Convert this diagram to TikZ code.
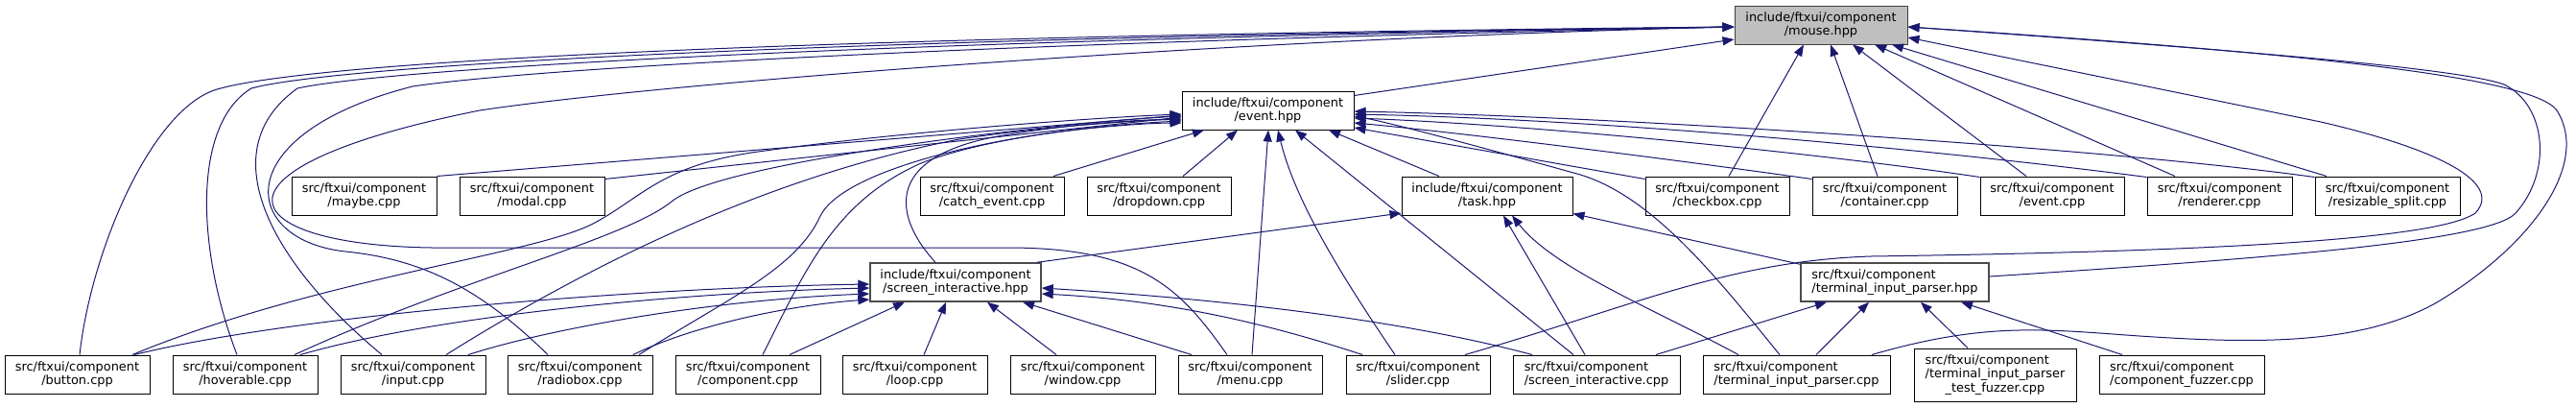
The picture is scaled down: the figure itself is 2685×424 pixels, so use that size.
\documentclass[tikz,border=0pt]{standalone}
\usepackage{fontspec}
\setmainfont{DejaVu Sans}
\usepackage{tikz}
\usetikzlibrary{arrows.meta}
\definecolor{navyedge}{HTML}{191970}
\definecolor{mousefill}{HTML}{BFBFBF}
\newcommand{\filefont}{\fontsize{12.9}{14.5}\selectfont}

\begin{document}
\begin{tikzpicture}[
    x=1pt, y=-1pt,
    file/.style = {rectangle, draw=black, fill=white, line width=1pt, minimum height=40pt, inner sep=0pt, align=center, font=\filefont},
    hdr/.style = {file, draw=black!70, line width=1.4pt},
    dep/.style = {draw=navyedge, line width=1pt, -{Triangle[length=12pt,width=9pt]}}
]
\path[use as bounding box, fill=white] (0,0) rectangle (2685,424);

% Headers
\node (mouse) [file, fill=mousefill, draw=black!75, minimum width=180pt] at (1898,26) {include/ftxui/component\\/mouse.hpp};
\node (eventh) [file, minimum width=179pt] at (1321.5,115) {include/ftxui/component\\/event.hpp};
\node (task) [file, minimum width=178pt] at (1550,204) {include/ftxui/component\\/task.hpp};
\node (sih) [hdr, minimum width=178pt] at (996,294) {include/ftxui/component\\/screen\_interactive.hpp};
\node (tiph) [hdr, align=left, minimum width=196pt] at (1975,294) {src/ftxui/component\\/terminal\_input\_parser.hpp};

% Middle row
\node (maybe) [file, minimum width=151pt] at (379.5,204) {src/ftxui/component\\/maybe.cpp};
\node (modal) [file, minimum width=151pt] at (554.5,204) {src/ftxui/component\\/modal.cpp};
\node (catchev) [file, minimum width=150pt] at (1034,204) {src/ftxui/component\\/catch\_event.cpp};
\node (dropdown) [file, minimum width=150pt] at (1208,204) {src/ftxui/component\\/dropdown.cpp};
\node (checkbox) [file, minimum width=150pt] at (1790,204) {src/ftxui/component\\/checkbox.cpp};
\node (container) [file, minimum width=151pt] at (1964.5,204) {src/ftxui/component\\/container.cpp};
\node (eventc) [file, minimum width=150pt] at (2139,204) {src/ftxui/component\\/event.cpp};
\node (renderer) [file, minimum width=151pt] at (2313.5,204) {src/ftxui/component\\/renderer.cpp};
\node (resizable) [file, minimum width=151pt] at (2488.5,204) {src/ftxui/component\\/resizable\_split.cpp};

% Bottom row
\node (button) [file, minimum width=151pt] at (80.5,390) {src/ftxui/component\\/button.cpp};
\node (hoverable) [file, minimum width=151pt] at (255.5,390) {src/ftxui/component\\/hoverable.cpp};
\node (input) [file, minimum width=151pt] at (430.5,390) {src/ftxui/component\\/input.cpp};
\node (radiobox) [file, minimum width=151pt] at (604.5,390) {src/ftxui/component\\/radiobox.cpp};
\node (component) [file, minimum width=151pt] at (779.5,390) {src/ftxui/component\\/component.cpp};
\node (loop) [file, minimum width=151pt] at (953.5,390) {src/ftxui/component\\/loop.cpp};
\node (window) [file, minimum width=151pt] at (1128.5,390) {src/ftxui/component\\/window.cpp};
\node (menu) [file, minimum width=150pt] at (1303,390) {src/ftxui/component\\/menu.cpp};
\node (slider) [file, minimum width=150pt] at (1478,390) {src/ftxui/component\\/slider.cpp};
\node (sic) [file, align=left, minimum width=174pt] at (1664,390) {src/ftxui/component\\/screen\_interactive.cpp};
\node (tipc) [file, align=left, minimum width=195pt] at (1872.5,390) {src/ftxui/component\\/terminal\_input\_parser.cpp};
\node (fuzztest) [file, align=left, minimum width=169pt, minimum height=55pt] at (2079.5,390.5) {src/ftxui/component\\/terminal\_input\_parser\\\hspace*{21pt}\_test\_fuzzer.cpp};
\node (compfuzz) [file, align=left, minimum width=172pt] at (2274,390) {src/ftxui/component\\/component\_fuzzer.cpp};

% Edges into mouse.hpp
\draw [dep] ([yshift=-5pt]eventh.north east) -- ([yshift=-15pt]mouse.west);
\draw [dep] ([xshift=2.5pt]button.north) .. controls (95,260) and (160,108) .. (230,92) .. controls (330,65) and (800,38) .. ([yshift=-2pt]mouse.west);
\draw [dep] ([xshift=-8.5pt]hoverable.north) .. controls (205,260) and (200,130) .. (262,92) .. controls (350,68) and (850,40) .. ([yshift=-2pt]mouse.west);
\draw [dep] ([xshift=-32.5pt]input.north) .. controls (290,280) and (215,160) .. (310,92) .. controls (400,72) and (900,42) .. ([yshift=-2pt]mouse.west);
\draw [dep] ([xshift=-33.5pt]radiobox.north) .. controls (500,300) and (440,270) .. (360,262) .. controls (250,250) and (235,140) .. (430,90) .. controls (550,72) and (1000,45) .. ([yshift=-2pt]mouse.west);
\draw [dep] ([xshift=-24pt]menu.north) .. controls (1230,300) and (1190,258) .. (1050,258) -- (450,258) .. controls (240,255) and (200,175) .. (500,115) .. controls (700,85) and (1300,40) .. ([yshift=-2pt]mouse.west);
\draw [dep] ([xshift=12pt]checkbox.north) -- ([xshift=-18pt]mouse.south);
\draw [dep] ([xshift=-7.5pt]container.north) -- ([xshift=10pt]mouse.south);
\draw [dep] ([xshift=-27pt]eventc.north) -- ([xshift=33pt]mouse.south);
\draw [dep] ([xshift=-46.5pt]renderer.north) -- ([xshift=56pt]mouse.south);
\draw [dep] ([xshift=-63.5pt]resizable.north) -- ([xshift=74pt]mouse.south);
\draw [dep] ([xshift=49pt]slider.north) .. controls (1700,320) and (1800,272) .. (1950,267) .. controls (2300,262) and (2540,250) .. (2580,222) .. controls (2610,190) and (2540,155) .. (2419,127) -- ([yshift=-13pt]mouse.east);
\draw [dep] ([yshift=6pt]tiph.east) .. controls (2350,270) and (2595,252) .. (2622,222) .. controls (2660,180) and (2655,110) .. (2610,88) .. controls (2560,70) and (2300,50) .. ([yshift=-2pt]mouse.east);
\draw [dep] ([xshift=78.5pt]tipc.north) .. controls (2070,335) and (2130,343) .. (2230,350) .. controls (2350,358) and (2460,360) .. (2540,315) .. controls (2640,255) and (2700,170) .. (2665,115) .. controls (2640,80) and (2400,55) .. ([yshift=-2pt]mouse.east);

% Edges into event.hpp
\draw [dep] (maybe.north east) -- ([yshift=-5pt]eventh.west);
\draw [dep] ([yshift=-3pt]modal.north east) -- ([yshift=-7pt]eventh.west);
\draw [dep] ([xshift=57.5pt]button.north) .. controls (330,290) and (560,265) .. (620,232) .. controls (670,205) and (690,172) .. (790,158) .. controls (950,136) and (1150,122) .. ([yshift=-4pt]eventh.west);
\draw [dep] ([xshift=51.5pt]hoverable.north) .. controls (480,290) and (650,250) .. (700,210) .. controls (750,168) and (1100,128) .. ([yshift=-6pt]eventh.west);
\draw [dep] ([xshift=34.5pt]input.north) .. controls (640,260) and (820,180) .. (1000,145) .. controls (1100,130) and (1200,125) .. ([yshift=-9pt]eventh.west);
\draw [dep] ([xshift=61.5pt]radiobox.north) .. controls (760,310) and (830,280) .. (855,225) .. controls (880,175) and (1050,135) .. ([yshift=-11pt]eventh.west);
\draw [dep] ([xshift=15.5pt]component.north) .. controls (840,280) and (870,210) .. (960,170) .. controls (1050,135) and (1200,128) .. ([yshift=-13pt]eventh.west);
\draw [dep] ([xshift=-21pt]sih.north) .. controls (935,230) and (915,165) .. (1040,142) .. controls (1120,128) and (1200,124) .. ([yshift=-10pt]eventh.west);
\draw [dep] ([xshift=64pt]catchev.north) -- ([xshift=-66.5pt]eventh.south);
\draw [dep] ([xshift=25pt]dropdown.north) -- ([xshift=-31.5pt]eventh.south);
\draw [dep] ([xshift=2pt]menu.north) -- ([xshift=0.5pt]eventh.south);
\draw [dep] ([xshift=-24pt]slider.north) .. controls (1400,290) and (1350,210) .. ([xshift=10.5pt]eventh.south);
\draw [dep] ([xshift=-24pt]sic.north) -- ([xshift=28.5pt]eventh.south);
\draw [dep] ([xshift=-50pt]task.north) -- ([xshift=63.5pt]eventh.south);
\draw [dep] ([yshift=-3pt]checkbox.north west) -- ([yshift=-18pt]eventh.east);
\draw [dep] ([yshift=-3pt]container.north west) .. controls (1700,160) and (1500,136) .. ([yshift=-13pt]eventh.east);
\draw [dep] ([yshift=-1pt]eventc.north west) .. controls (1900,160) and (1600,130) .. ([yshift=-8pt]eventh.east);
\draw [dep] ([yshift=-1pt]renderer.north west) .. controls (2050,160) and (1700,125) .. ([yshift=-4pt]eventh.east);
\draw [dep] ([yshift=-1pt]resizable.north west) .. controls (2200,155) and (1700,122) .. ([yshift=-1pt]eventh.east);
\draw [dep] ([xshift=-17.5pt]tipc.north) .. controls (1790,290) and (1720,200) .. (1640,180) .. controls (1550,155) and (1450,128) .. ([yshift=-6pt]eventh.east);

% Edges into task.hpp
\draw [dep] ([xshift=-5pt]sih.north east) -- ([yshift=-18pt]task.west);
\draw [dep] ([xshift=-12pt]sic.north) -- ([xshift=17pt]task.south);
\draw [dep] ([xshift=-60.5pt]tipc.north) .. controls (1720,320) and (1620,280) .. ([xshift=26pt]task.south);
\draw [dep] ([yshift=-2pt]tiph.north west) -- ([yshift=2pt]task.south east);

% Edges into screen_interactive.hpp
\draw [dep] ([xshift=59.5pt]button.north) .. controls (300,330) and (650,300) .. ([yshift=-2pt]sih.west);
\draw [dep] ([xshift=57.5pt]hoverable.north) .. controls (450,330) and (700,305) .. ([yshift=-6pt]sih.west);
\draw [dep] ([xshift=57.5pt]input.north) .. controls (580,340) and (750,312) .. ([yshift=-12pt]sih.west);
\draw [dep] ([xshift=55.5pt]radiobox.north) .. controls (720,340) and (820,318) .. ([yshift=-18pt]sih.west);
\draw [dep] ([xshift=43.5pt]component.north) -- ([xshift=-53pt]sih.south);
\draw [dep] ([xshift=9.5pt]loop.north) -- ([xshift=-10pt]sih.south);
\draw [dep] ([xshift=-27.5pt]window.north) -- ([xshift=33pt]sih.south);
\draw [dep] ([xshift=-61pt]menu.north) -- ([xshift=70pt]sih.south);
\draw [dep] ([xshift=-58pt]slider.north) .. controls (1300,330) and (1200,312) .. ([yshift=-12pt]sih.east);
\draw [dep] ([xshift=-67pt]sic.north) .. controls (1450,330) and (1250,310) .. ([yshift=-6pt]sih.east);

% Edges into terminal_input_parser.hpp
\draw [dep] ([xshift=62pt]sic.north) -- ([xshift=-71pt]tiph.south);
\draw [dep] ([xshift=20.5pt]tipc.north) -- ([xshift=-27pt]tiph.south);
\draw [dep] ([xshift=-28.5pt]fuzztest.north) -- ([xshift=27pt]tiph.south);
\draw [dep] ([xshift=-62pt]compfuzz.north) -- ([xshift=69pt]tiph.south);

\end{tikzpicture}
\end{document}
